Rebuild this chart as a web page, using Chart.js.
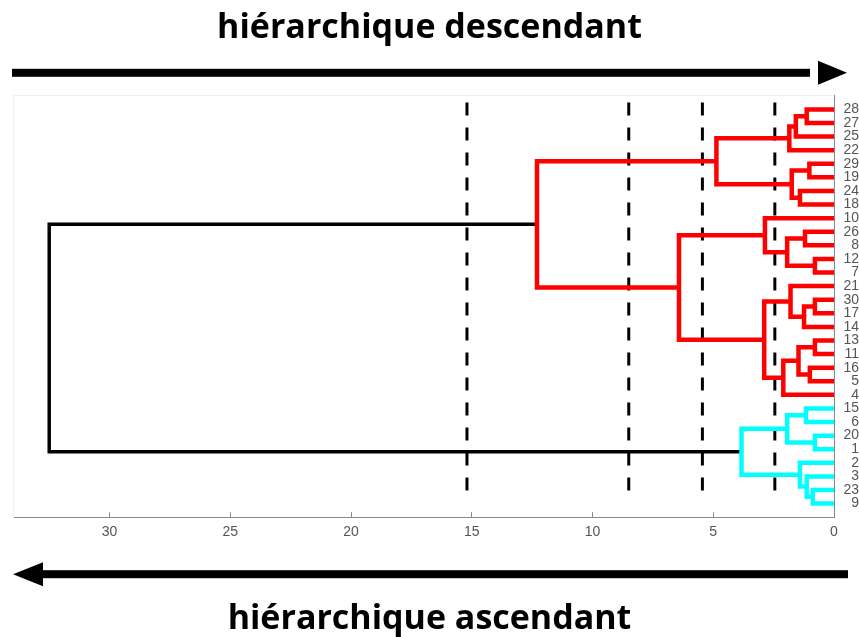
<!DOCTYPE html>
<html>
<head>
<meta charset="utf-8">
<script src="https://cdn.jsdelivr.net/npm/chart.js@4"></script>
<style>
  html, body { margin: 0; padding: 0; background: #fff; }
  #wrap { width: 859px; height: 637px; position: relative; }
</style>
</head>
<body>
<div id="wrap"><canvas id="dendro"></canvas></div>
<script>
// feuilles, de haut en bas
const leaves = ['28','27','25','22','29','19','24','18','10','26','8','12','7','21','30','17','14','13','11','16','5','4','15','6','20','1','2','3','23','9'];

// fusions (n0, n1, ...) : deux enfants, hauteur, groupe
const mergeA = ['28','n0','n1','29','24','n3','n2','26','12','n7','10','30','n11','21','13','16','n14','n16','n13','n10','n6','15','20','n21','23','3','2','n23','n20'];
const mergeB = ['27','25','22','19','18','n4','n5','8','7','n8','n9','17','14','n12','11','5','n15','4','n17','n18','n19','6','1','n22','9','n24','n25','n26','n27'];
const mergeHeight = [1.13, 1.58, 1.85, 1.02, 1.41, 1.75, 4.87, 1.20, 0.79, 1.94, 2.86, 0.79, 1.24, 1.80, 0.79, 1.00, 1.47, 2.10, 2.89, 6.42, 12.3, 1.16, 0.79, 1.94, 0.88, 1.13, 1.41, 3.83, 32.5];
const mergeGroup = ['r','r','r','r','r','r','r','r','r','r','r','r','r','r','r','r','r','r','r','r','r','c','c','c','c','c','c','c','k'];

// seuils de coupe (traits pointillés)
const cutHeights = [15.2, 8.5, 5.45, 2.45];

const xTicks = [30, 25, 20, 15, 10, 5, 0];

const groupColors = { r: '#ff0000', c: '#00ffff', k: '#000000' };

// position d'un noeud : hauteur et rang vertical
const nodePos = {};
leaves.forEach(function(name, i) { nodePos[name] = { x: 0, y: i + 1 }; });
mergeHeight.forEach(function(h, i) {
  const a = nodePos[mergeA[i]], b = nodePos[mergeB[i]];
  nodePos['n' + i] = { x: h, y: (a.y + b.y) / 2 };
});

const datasets = [];
mergeHeight.forEach(function(h, i) {
  const a = nodePos[mergeA[i]], b = nodePos[mergeB[i]];
  datasets.push({
    data: [{ x: a.x, y: a.y }, { x: h, y: a.y }, { x: h, y: b.y }, { x: b.x, y: b.y }],
    borderColor: groupColors[mergeGroup[i]],
    borderWidth: mergeGroup[i] === 'k' ? 3.5 : 4.5
  });
});
cutHeights.forEach(function(h) {
  datasets.push({
    data: [{ x: h, y: 0.5 }, { x: h, y: 29.5 }],
    borderColor: '#000',
    borderWidth: 3,
    borderDash: [13, 12]
  });
});

// flèches au-dessus et au-dessous du graphique
const arrowsPlugin = {
  id: 'arrows',
  afterDraw: function(chart) {
    const ctx = chart.ctx, area = chart.chartArea, w = chart.width;
    ctx.save();
    ctx.fillStyle = '#000';
    // haut : vers la droite
    let y = area.top - 23;
    ctx.fillRect(12, y - 4, w - 12 - 39 - 10, 8);
    ctx.beginPath();
    ctx.moveTo(w - 41, y - 12);
    ctx.lineTo(w - 12, y);
    ctx.lineTo(w - 41, y + 12);
    ctx.closePath();
    ctx.fill();
    // bas : vers la gauche
    y = area.bottom + 57;
    ctx.fillRect(40, y - 4, w - 11 - 40, 8);
    ctx.beginPath();
    ctx.moveTo(43, y - 12);
    ctx.lineTo(13, y);
    ctx.lineTo(43, y + 12);
    ctx.closePath();
    ctx.fill();
    ctx.restore();
  }
};

const tickFont = { family: "'Liberation Sans', Arial, sans-serif", size: 14 };
const tickColor = '#555555';

new Chart(document.getElementById('dendro'), {
  type: 'scatter',
  data: { datasets: datasets },
  options: {
    responsive: true,
    maintainAspectRatio: false,
    animation: false,
    datasets: {
      scatter: {
        showLine: true,
        pointRadius: 0,
        pointHoverRadius: 0,
        borderJoinStyle: 'miter',
        borderCapStyle: 'butt',
        fill: false
      }
    },
    layout: { padding: 0 },
    plugins: {
      legend: { display: false },
      tooltip: { enabled: false },
      title: {
        display: true,
        text: 'hiérarchique descendant',
        color: '#000',
        font: { family: "'Open Sans', sans-serif", size: 34, weight: 'bold', lineHeight: 1.2 },
        padding: { top: 8, bottom: 47 }
      },
      subtitle: {
        display: true,
        position: 'bottom',
        text: 'hiérarchique ascendant',
        color: '#000',
        font: { family: "'Open Sans', sans-serif", size: 34, weight: 'bold', lineHeight: 0.7 },
        padding: { top: 66, bottom: 6 }
      }
    },
    scales: {
      x: {
        type: 'linear',
        position: 'bottom',
        reverse: true,
        min: 0,
        max: 34,
        afterBuildTicks: function(scale) {
          scale.ticks = xTicks.map(function(v) { return { value: v }; });
        },
        afterFit: function(scale) { scale.height = 24; },
        grid: { display: true, drawOnChartArea: false, drawTicks: true, tickLength: -5, color: '#888' },
        border: { display: true, color: '#888', width: 1 },
        ticks: { color: tickColor, font: tickFont, padding: 12, maxRotation: 0 }
      },
      xTop: {
        type: 'linear',
        position: 'top',
        afterFit: function(scale) { scale.height = 0; },
        grid: { display: false },
        border: { display: true, color: '#f0f0f0' },
        ticks: { display: false }
      },
      y: {
        type: 'linear',
        position: 'right',
        reverse: true,
        min: 0,
        max: 31,
        afterBuildTicks: function(scale) {
          scale.ticks = leaves.map(function(name, i) { return { value: i + 1 }; });
        },
        afterFit: function(scale) { scale.width = 25; },
        grid: { display: false, drawTicks: false },
        border: { display: true, color: '#888', width: 1 },
        ticks: {
          color: tickColor,
          font: Object.assign({ lineHeight: 1 }, tickFont),
          padding: 5,
          autoSkip: false,
          crossAlign: 'far',
          callback: function(value) { return leaves[value - 1]; }
        }
      },
      yLeft: {
        type: 'linear',
        position: 'left',
        afterFit: function(scale) { scale.width = 13; },
        grid: { display: false },
        border: { display: true, color: '#f0f0f0' },
        ticks: { display: false }
      }
    }
  },
  plugins: [arrowsPlugin]
});
</script>
</body>
</html>
